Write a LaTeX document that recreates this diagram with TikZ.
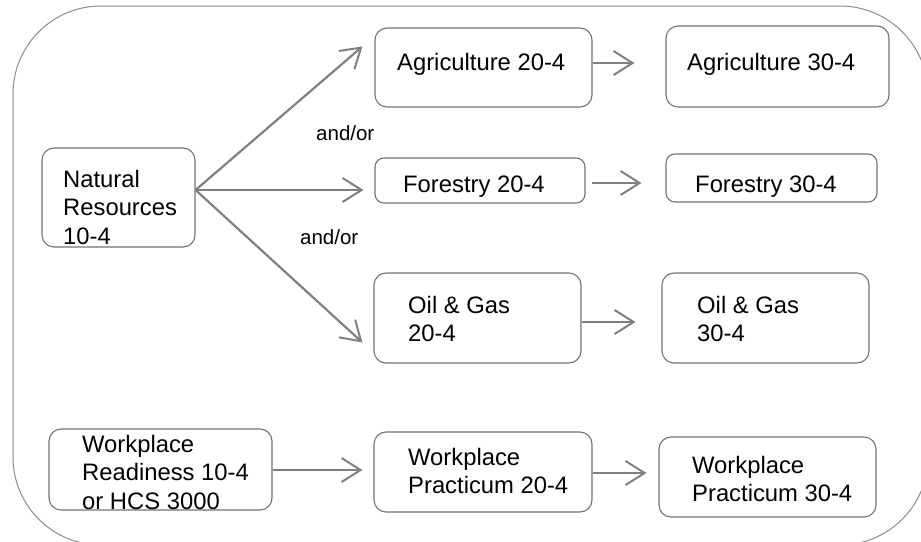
\documentclass[tikz,border=0pt]{standalone}
\usepackage{fontspec}
\setmainfont{Liberation Sans}
\usetikzlibrary{arrows.meta,calc}

\tikzset{
  frame/.style={draw=black!45, line width=1pt, rounded corners=88pt},
  box/.style={draw=black!55, line width=1.1pt, rounded corners=12pt,
    inner sep=0pt, minimum width=#1},
  txt/.style={anchor=base west, inner sep=0pt,
    font=\fontsize{23.8pt}{28.5pt}\selectfont},
  joiner/.style={anchor=base west, inner sep=0pt,
    font=\fontsize{20.5pt}{24pt}\selectfont},
  flow/.style={draw=black!50, line width=2.2pt,
    -{Straight Barb[length=19pt,width=24pt,line width=2pt]}},
}
\newcommand\stack[1]{\begin{tabular}[t]{@{}l@{}}#1\end{tabular}}
\renewcommand\arraystretch{1}

\begin{document}
\begin{tikzpicture}[x=1pt,y=-1pt]
  \useasboundingbox (0,0) rectangle (921,541);
  \clip (0,0) rectangle (921,541);

  % surrounding frame, running past the right and bottom edges
  \draw[frame] (13,6) rectangle (928,545);

  % course boxes
  \node[box=153pt, minimum height=99pt] (nr)    at (118.5,197.5) {};
  \node[box=217pt, minimum height=79pt] (agr2)  at (483.5,67.5) {};
  \node[box=223pt, minimum height=81pt] (agr3)  at (777.5,66.5) {};
  \node[box=210pt, minimum height=45pt, rounded corners=9pt] (for2) at (480,180.5) {};
  \node[box=211pt, minimum height=48pt, rounded corners=9pt] (for3) at (771.5,178) {};
  \node[box=207pt, minimum height=90pt] (oil2)  at (477.5,318) {};
  \node[box=207pt, minimum height=90pt] (oil3)  at (765.5,318) {};
  \node[box=223pt, minimum height=81pt] (wr)    at (160.5,469.5) {};
  \node[box=218pt, minimum height=80pt] (wp2)   at (483,472) {};
  \node[box=217pt, minimum height=80pt] (wp3)   at (767.5,477) {};

  % course titles
  \node[txt] (nrt)   at (63,187)  {\stack{Natural\\Resources\\10-4}};
  \node[txt] (agr2t) at (397,70)  {Agriculture 20-4};
  \node[txt] (agr3t) at (687,70)  {Agriculture 30-4};
  \node[txt] (for2t) at (403,192) {Forestry 20-4};
  \node[txt] (for3t) at (695,192) {Forestry 30-4};
  \node[txt] (oil2t) at (408,313) {\stack{Oil \& Gas\\20-4}};
  \node[txt] (oil3t) at (697,313) {\stack{Oil \& Gas\\30-4}};
  \node[txt] (wrt)   at (82,452)  {\stack{Workplace\\Readiness 10-4\\or HCS 3000}};
  \node[txt] (wp2t)  at (408,465) {\stack{Workplace\\Practicum 20-4}};
  \node[txt] (wp3t)  at (692,473) {\stack{Workplace\\Practicum 30-4}};

  % choice labels
  \node[joiner] (or1) at (316,140) {and/or};
  \node[joiner] (or2) at (300,244) {and/or};

  % branching from Natural Resources
  \coordinate (fork) at ($(nr.east)+(0,-7.5)$);
  \draw[flow] (fork) -- ($(agr2.north west)+(-12,19)$);
  \draw[flow] (fork) -- ($(for2.west)+(-11,9.5)$);
  \draw[flow] (fork) -- ($(oil2.south west)+(-11,-21)$);

  % progression to the 30-level courses
  \draw[flow] ($(agr2.east)+(0,-4.5)$) -- ($(agr3.west)+(-31,-3.5)$);
  \draw[flow] ($(for2.east)+(6,2.5)$) -- ($(for3.west)+(-24,5)$);
  \draw[flow] ($(oil2.east)+(0,4)$) -- ($(oil3.west)+(-26,4)$);
  \draw[flow] ($(wr.east)+(0,0.5)$) -- ($(wp2.west)+(-11,-2)$);
  \draw[flow] ($(wp2.east)+(0,1)$) -- ($(wp3.west)+(-12,-4)$);
\end{tikzpicture}
\end{document}
